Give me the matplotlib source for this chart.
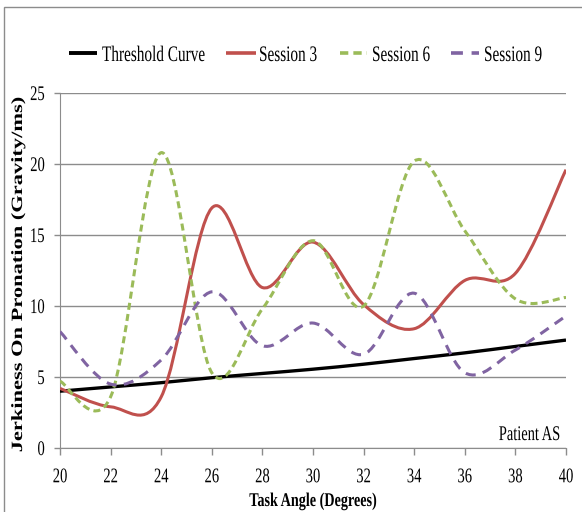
import numpy as np
import matplotlib
matplotlib.use('Agg')
import matplotlib.pyplot as plt
from matplotlib.path import Path
from matplotlib.patches import PathPatch, Rectangle
from matplotlib.lines import Line2D
from matplotlib.patheffects import AbstractPathEffect
from matplotlib.transforms import Affine2D

plt.rcParams['font.family'] = ['Liberation Serif', 'DejaVu Serif']

# data (every 2 degrees)
angles = [20, 22, 24, 26, 28, 30, 32, 34, 36, 38, 40]
threshold = [4.0, 4.3, 4.6, 4.95, 5.25, 5.55, 5.9, 6.3, 6.7, 7.15, 7.6]
session3 = [4.2, 2.9, 3.6, 16.9, 11.3, 14.5, 10.1, 8.4, 11.8, 12.3, 19.6]
session6 = [4.7, 3.6, 20.8, 5.3, 9.8, 14.6, 10.0, 20.2, 15.3, 10.5, 10.6]
session9 = [8.2, 4.5, 6.2, 11.0, 7.2, 8.8, 6.6, 10.9, 5.3, 6.9, 9.3]

names = ['Threshold Curve', 'Session 3', 'Session 6', 'Session 9']
colors = ['#000000', '#C0504D', '#9BBB59', '#8064A2']
widths = [2.4, 2.2, 2.2, 2.2]
dashes = [None, None, (2.3, 1.4), (3.3, 2.4)]

W, H = 582, 512
GRAY = '#8c8c8c'


class Stretch(AbstractPathEffect):
    # the reference text is a tall narrow Times; stretch the glyphs of a small font
    def __init__(self, sx=1.0, sy=1.0, yanchor='baseline'):
        super().__init__()
        self.sx, self.sy, self.yanchor = sx, sy, yanchor

    def draw_path(self, renderer, gc, tpath, affine, rgbFace=None):
        v = tpath.vertices
        if len(v) == 0:
            return
        cx = (v[:, 0].min() + v[:, 0].max()) / 2
        cy = 0.0 if self.yanchor == 'baseline' else (v[:, 1].min() + v[:, 1].max()) / 2
        t = Affine2D().translate(-cx, -cy).scale(self.sx, self.sy).translate(cx, cy)
        renderer.draw_path(gc, tpath, t + affine, rgbFace)


def smooth_path(x, y):
    # excel style smoothed line: cubic bezier segments with catmull-rom tangents
    x = np.asarray(x, float)
    y = np.asarray(y, float)
    px = np.concatenate([[x[0]], x, [x[-1]]])
    py = np.concatenate([[y[0]], y, [y[-1]]])
    verts = [(x[0], y[0])]
    codes = [Path.MOVETO]
    for i in range(len(x) - 1):
        c1 = (x[i] + (px[i + 2] - px[i]) / 6, y[i] + (py[i + 2] - py[i]) / 6)
        c2 = (x[i + 1] - (px[i + 3] - px[i + 1]) / 6, y[i + 1] - (py[i + 3] - py[i + 1]) / 6)
        verts += [c1, c2, (x[i + 1], y[i + 1])]
        codes += [Path.CURVE4] * 3
    return Path(verts, codes)


def fx(p):
    return p / W


def fy(p):
    return 1 - p / H


fig = plt.figure(figsize=(W / 100, H / 100), dpi=100)
fig.patches.append(Rectangle((fx(4), -0.1), 1.2, fy(7) + 0.1, transform=fig.transFigure,
                             fill=False, edgecolor=GRAY, linewidth=1.0))
ax = fig.add_axes([fx(60), fy(448), (566 - 60) / W, (448 - 93) / H])

for vals, c, w, d in zip([threshold, session3, session6, session9], colors, widths, dashes):
    patch = PathPatch(smooth_path(angles, vals), facecolor='none', edgecolor=c, linewidth=w,
                      capstyle='butt', joinstyle='round', zorder=3)
    if d is not None:
        patch.set_linestyle((0, d))
    ax.add_patch(patch)

ax.set_xlim(20, 40)
ax.set_ylim(0, 25)
ax.set_xticks(angles)
ax.set_yticks([0, 5, 10, 15, 20, 25])
ax.grid(axis='y', color=GRAY, linewidth=1.0)
ax.set_axisbelow(True)
for s in ['top', 'right']:
    ax.spines[s].set_visible(False)
for s in ['left', 'bottom']:
    ax.spines[s].set_color(GRAY)
ax.tick_params(axis='both', colors=GRAY, labelcolor='black', labelsize=10.5, width=1.0)
ax.tick_params(axis='y', length=4, pad=7)
ax.tick_params(axis='x', length=5, pad=11)
for lbl in ax.get_xticklabels() + ax.get_yticklabels():
    lbl.set_path_effects([Stretch(1.0, 1.43, 'center')])

ax.text(39.76, 0.56, 'Patient AS', fontsize=10.4, ha='right', va='baseline',
        path_effects=[Stretch(1.0, 1.45)])

fig.text(fx(313), fy(506), 'Task Angle (Degrees)', fontsize=10.2, fontweight='bold',
         ha='center', va='baseline', path_effects=[Stretch(1.0, 1.37)])
fig.text(fx(18), fy(274), 'Jerkiness On Pronation (Gravity/ms)', fontsize=11.3, fontweight='bold',
         rotation=90, ha='center', va='center', path_effects=[Stretch(1.43, 1.0, 'center')])

# legend, laid out like the excel one
leg_lines = [(68.7, 97.3), (226, 256), (340, 367), (451, 479)]
leg_text_x = [102, 259, 372, 484]
for (x0, x1), tx, name, c, w, d in zip(leg_lines, leg_text_x, names, colors, widths, dashes):
    ln = Line2D([fx(x0), fx(x1)], [fy(52.5), fy(52.5)], transform=fig.transFigure,
                color=c, linewidth=w + 0.4, solid_capstyle='butt', dash_capstyle='butt')
    if d is not None:
        ln.set_linestyle((0, d))
    fig.lines.append(ln)
    fig.text(fx(tx), fy(61), name, fontsize=11.0, ha='left', va='baseline',
             path_effects=[Stretch(1.0, 1.45)])

fig.savefig('out.png', dpi=100)
